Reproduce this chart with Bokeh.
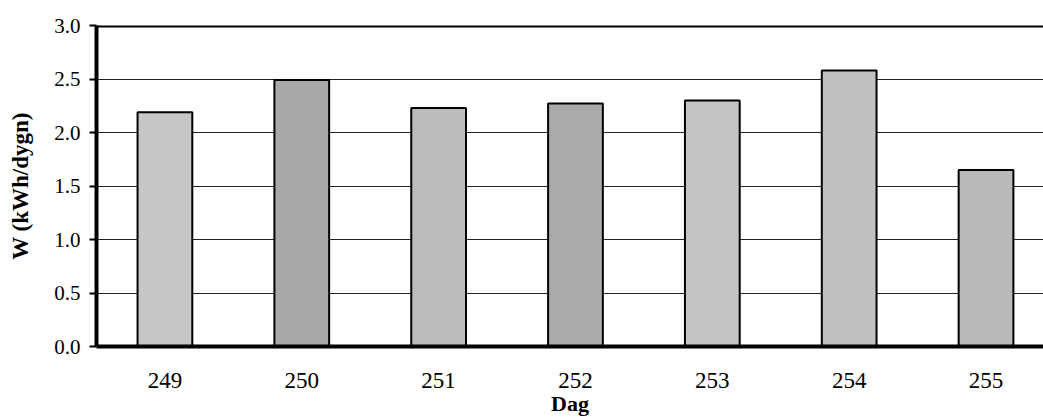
from bokeh.plotting import figure
from bokeh.models import ColumnDataSource, Range1d, FixedTicker, PrintfTickFormatter, Span
from bokeh.embed import file_html
from bokeh.resources import INLINE

days = ["249", "250", "251", "252", "253", "254", "255"]
w_values = [2.19, 2.49, 2.23, 2.27, 2.30, 2.58, 1.65]
y_ticks = [0.0, 0.5, 1.0, 1.5, 2.0, 2.5, 3.0]

bar_colors = ["#c6c6c6", "#a9a9a9", "#bcbcbc", "#aaaaaa", "#c4c4c4", "#c0c0c0", "#bababa"]

xs = list(range(len(days)))
src = ColumnDataSource(dict(x=xs, top=w_values, color=bar_colors))

FONT = "'Liberation Serif', 'DejaVu Serif', serif"

p = figure(width=1043, height=418, output_backend="svg", toolbar_location=None,
           x_range=Range1d(-0.5, 6.42), y_range=Range1d(0, 3.0),
           min_border_left=96, min_border_right=0, min_border_top=25, min_border_bottom=20)

p.outline_line_color = None
p.background_fill_color = "white"
p.border_fill_color = "white"

p.vbar(x="x", top="top", bottom=0, width=0.40, source=src,
       fill_color="color", line_color="black", line_width=2)

p.add_layout(Span(location=3.0, dimension="width", line_color="black", line_width=4))

# y axis
p.yaxis.ticker = FixedTicker(ticks=y_ticks)
p.yaxis.formatter = PrintfTickFormatter(format="%.1f")
p.yaxis.axis_line_width = 4
p.yaxis.axis_line_color = "black"
p.yaxis.major_tick_out = 7
p.yaxis.major_tick_in = 0
p.yaxis.major_tick_line_width = 2
p.yaxis.minor_tick_line_color = None
p.yaxis.major_label_text_font = FONT
p.yaxis.major_label_text_font_size = "21px"
p.yaxis.major_label_text_color = "black"
p.yaxis.major_label_standoff = 9
p.yaxis.axis_label = "W (kWh/dygn)"
p.yaxis.axis_label_text_font = FONT
p.yaxis.axis_label_text_font_size = "23px"
p.yaxis.axis_label_text_font_style = "bold"
p.yaxis.axis_label_text_color = "black"
p.yaxis.axis_label_standoff = 18

# x axis
p.xaxis.ticker = FixedTicker(ticks=xs)
p.xaxis.major_label_overrides = {i: d for i, d in enumerate(days)}
p.xaxis.axis_line_width = 4
p.xaxis.axis_line_color = "black"
p.xaxis.major_tick_out = 0
p.xaxis.major_tick_in = 0
p.xaxis.major_tick_line_color = None
p.xaxis.minor_tick_line_color = None
p.xaxis.major_label_text_font = FONT
p.xaxis.major_label_text_font_size = "23px"
p.xaxis.major_label_text_color = "black"
p.xaxis.major_label_standoff = 26
p.xaxis.axis_label = "Dag"
p.xaxis.axis_label_text_font = FONT
p.xaxis.axis_label_text_font_size = "22px"
p.xaxis.axis_label_text_font_style = "bold"
p.xaxis.axis_label_text_color = "black"
p.xaxis.axis_label_standoff = 0

p.xgrid.grid_line_color = None
p.ygrid.ticker = FixedTicker(ticks=[0.5, 1.0, 1.5, 2.0, 2.5])
p.ygrid.grid_line_color = "#222222"
p.ygrid.grid_line_width = 1

open("out.html", "w").write(file_html(p, INLINE))
